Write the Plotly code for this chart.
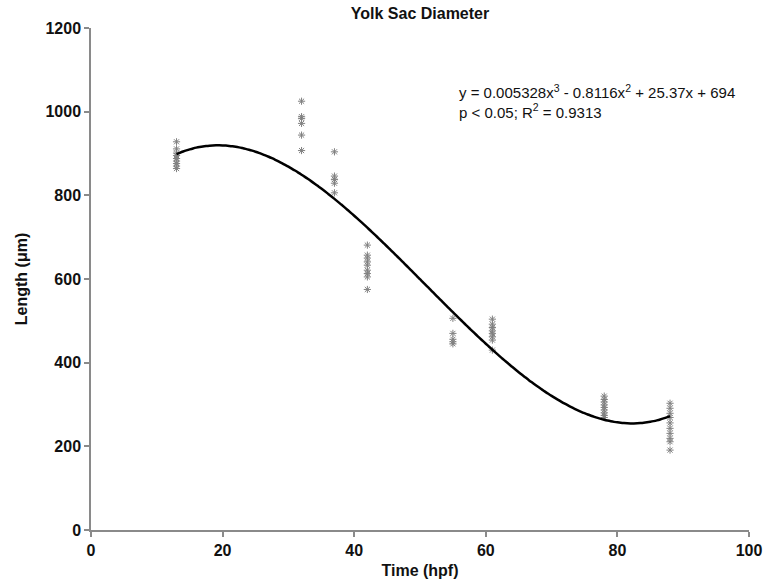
import plotly.graph_objects as go

# Measured data (Time in hpf, Length in µm)
t13 = [928, 911, 901, 895, 888, 882, 876, 870, 864]
t32 = [1025, 988, 984, 972, 944, 907]
t37 = [904, 846, 838, 829, 806]
t42 = [681, 657, 650, 641, 633, 621, 613, 605, 575]
t55 = [506, 470, 456, 450, 445]
t61 = [504, 492, 484, 476, 470, 462, 454, 430]
t78 = [320, 312, 306, 299, 293, 287, 280, 274, 269]
t88 = [303, 291, 279, 269, 256, 243, 231, 219, 211, 191]

times = [13, 32, 37, 42, 55, 61, 78, 88]
groups = [t13, t32, t37, t42, t55, t61, t78, t88]

x_ticks = [0, 20, 40, 60, 80, 100]
y_ticks = [0, 200, 400, 600, 800, 1000, 1200]

# Cubic fit coefficients as printed on the chart (a3, a2, a1, a0)
coef = [0.005328, -0.8116, 25.37, 694]
fit_x = [13 + i * 0.5 for i in range(151)]
fit_y = [coef[0] * x**3 + coef[1] * x**2 + coef[2] * x + coef[3] for x in fit_x]

xs, ys = [], []
for t, g in zip(times, groups):
    xs += [t] * len(g)
    ys += g

fig = go.Figure()
fig.add_trace(go.Scatter(
    x=xs, y=ys, mode="markers",
    marker=dict(symbol="asterisk-open", size=6, color="#808080",
                line=dict(color="#808080", width=1)),
    showlegend=False, cliponaxis=False))
fig.add_trace(go.Scatter(
    x=fit_x, y=fit_y, mode="lines",
    line=dict(color="black", width=2.5, shape="spline"),
    showlegend=False))

font_family = "Liberation Sans, Arial, sans-serif"
axis_common = dict(
    showgrid=False, zeroline=False, showline=True, linecolor="#8a8a8a", linewidth=1.5,
    ticks="outside", ticklen=5, tickcolor="#8a8a8a", tickwidth=1.5,
    tickfont=dict(family=font_family, size=16, color="#111"),
    automargin=False, tickmode="array",
)

fig.update_layout(
    width=763, height=584,
    margin=dict(l=91, r=14, t=28, b=54),
    paper_bgcolor="white", plot_bgcolor="white",
    title=dict(text="<b>Yolk Sac Diameter</b>", x=0.5, xref="paper", xanchor="center",
               y=1 - 13 / 584, yref="container", yanchor="middle",
               font=dict(family=font_family, size=16, color="#111"),
               automargin=False),
    xaxis=dict(range=[0, 100], tickvals=x_ticks,
               ticktext=["<b>%d</b>" % v for v in x_ticks],
               title=dict(text="<b>Time (hpf)</b>", standoff=7,
                          font=dict(family=font_family, size=16, color="#111")),
               **axis_common),
    yaxis=dict(range=[0, 1200], tickvals=y_ticks,
               ticktext=["<b>%d</b>" % v for v in y_ticks],
               title=dict(text="<b>Length (μm)</b>", standoff=14,
                          font=dict(family=font_family, size=16, color="#111")),
               **axis_common),
    annotations=[dict(
        x=55.6, y=1075, xref="x", yref="y", xanchor="left", yanchor="top",
        align="left", showarrow=False,
        text="y = 0.005328x<sup>3</sup> - 0.8116x<sup>2</sup> + 25.37x + 694<br>p < 0.05; R<sup>2</sup> = 0.9313",
        font=dict(family=font_family, size=15, color="#111"))],
)

fig.write_html("out.html", config={"displayModeBar": False},
               post_script="document.body.style.margin='0';")
